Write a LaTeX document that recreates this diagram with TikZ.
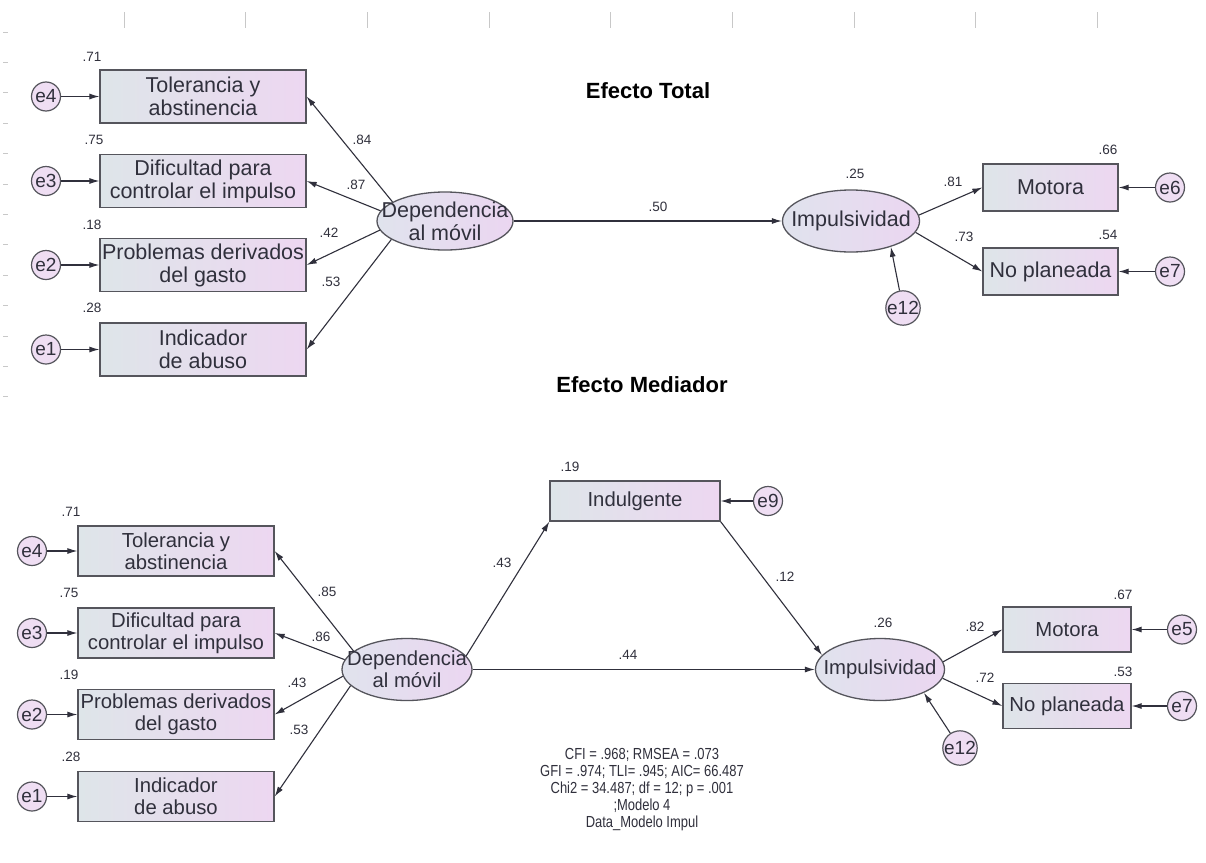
\documentclass[tikz,border=0pt]{standalone}
\usepackage{fontspec}
\setmainfont{Liberation Sans}
\usetikzlibrary{arrows.meta,shapes.geometric}
\definecolor{BoxLeft}{RGB}{222,229,233}
\definecolor{BoxRight}{RGB}{237,215,241}
\definecolor{LatLeft}{RGB}{224,227,237}
\definecolor{LatRight}{RGB}{235,214,241}
\definecolor{ErrFill}{RGB}{239,222,243}
\definecolor{Edge}{RGB}{85,85,92}
\definecolor{Ink}{RGB}{48,48,60}
\definecolor{Ruler}{RGB}{200,200,200}

\begin{document}
\begin{tikzpicture}[x=1pt, y=-1pt,
    obs/.style={draw=Edge, line width=1.3pt, left color=BoxLeft, right color=BoxRight,
        inner sep=0pt, align=center, text=Ink, font=\fontsize{21.5}{23}\selectfont},
    lat/.style={ellipse, draw=Edge, line width=1.3pt, left color=LatLeft, right color=LatRight,
        inner sep=0pt},
    lattext/.style={align=center, text=Ink, inner sep=0pt, font=\fontsize{21.5}{23}\selectfont},
    err/.style={circle, draw=Edge, line width=1.2pt, fill=ErrFill, inner sep=0pt,
        minimum size=29pt, text=Ink, font=\fontsize{19}{19}\selectfont},
    coef/.style={text=Ink, inner sep=0pt, font=\fontsize{13.5}{14}\selectfont},
    link/.style={draw=Ink, line width=1.1pt, -{Latex[length=10pt,width=6pt]}},
    small/.style={font=\fontsize{20.3}{22}\selectfont},
    ]
    %% Background
    \fill[white] (0,0) rectangle (1206,862);
    \useasboundingbox (0,0) rectangle (1206,862);

    %% Ruler marks
    \foreach \k in {0,...,8}
        \draw[Ruler, line width=1pt] ({124+121.7*\k},12) -- ({124+121.7*\k},28);
    \foreach \k in {0,...,12}
        \draw[Ruler, line width=1pt] (3,{32+30.4*\k}) -- (8,{32+30.4*\k});

    %% Titles
    \node[font=\bfseries\fontsize{22}{24}\selectfont] (titleT) at (648,91) {Efecto Total};
    \node[font=\bfseries\fontsize{22}{24}\selectfont] (titleM) at (642,385) {Efecto Mediador};

    %% Efecto Total: indicators
    \node[obs, minimum width=206pt, minimum height=53pt] (tolT) at (203,96.5) {Tolerancia y\\abstinencia};
    \node[obs, minimum width=206pt, minimum height=53pt] (difT) at (203,181) {Dificultad para\\controlar el impulso};
    \node[obs, minimum width=206pt, minimum height=53pt] (proT) at (203,265) {Problemas derivados\\del gasto};
    \node[obs, minimum width=206pt, minimum height=53pt] (abuT) at (203,349.5) {Indicador\\de abuso};
    \node[err] (eT4) at (46,96.5) {e4};
    \node[err] (eT3) at (46,181) {e3};
    \node[err] (eT2) at (46,265) {e2};
    \node[err] (eT1) at (46,349.5) {e1};
    \foreach \e/\b in {eT4/tolT, eT3/difT, eT2/proT, eT1/abuT}
        \draw[link] (\e) -- (\b.west);

    %% Efecto Total: latent variables
    \node[lat, minimum width=136pt, minimum height=58pt] (depT) at (445,221) {};
    \node[lattext] (depTtxt) at (depT) {Dependencia\\al móvil};
    \node[lat, minimum width=137pt, minimum height=62pt] (impT) at (851,221) {};
    \node[lattext] (impTtxt) at (impT) {Impulsividad};
    \node[err, minimum size=33pt] (eT12) at (903,308) {e12};

    \draw[link] (depT.160) -- (tolT.east);
    \draw[link] (depT.171) -- (difT.east);
    \draw[link] (depT.188) -- (proT.east);
    \draw[link] (depT.199) -- (abuT.east);
    \draw[link] (depT.east) -- (impT.west);
    \draw[link] (eT12) -- (impT.-33);

    %% Efecto Total: Impulsividad
    \node[obs, minimum width=135pt, minimum height=47pt] (motT) at (1050.5,187.5) {Motora};
    \node[obs, minimum width=135pt, minimum height=47pt] (nopT) at (1050.5,271.5) {No planeada};
    \node[err] (eT6) at (1170,187.5) {e6};
    \node[err] (eT7) at (1170,271.5) {e7};
    \draw[link] (impT.5) -- (motT.west);
    \draw[link] (impT.-10) -- (nopT.west);
    \draw[link] (eT6) -- (motT.east);
    \draw[link] (eT7) -- (nopT.east);

    \draw
    (92,57) node[coef]{.71}
    (94,140) node[coef]{.75}
    (92,225) node[coef]{.18}
    (92,308) node[coef]{.28}
    (362,140) node[coef]{.84}
    (356,185) node[coef]{.87}
    (329,233) node[coef]{.42}
    (331,282) node[coef]{.53}
    (658,207) node[coef]{.50}
    (855,174) node[coef]{.25}
    (953,182) node[coef]{.81}
    (964,237) node[coef]{.73}
    (1108,150) node[coef]{.66}
    (1108,235) node[coef]{.54}
    ;

    %% Efecto Mediador: indicators
    \node[obs, small, minimum width=196pt, minimum height=50pt] (tolM) at (176,551) {Tolerancia y\\abstinencia};
    \node[obs, small, minimum width=196pt, minimum height=50pt] (difM) at (176,633) {Dificultad para\\controlar el impulso};
    \node[obs, small, minimum width=196pt, minimum height=50pt] (proM) at (176,714.5) {Problemas derivados\\del gasto};
    \node[obs, small, minimum width=196pt, minimum height=50pt] (abuM) at (176,796.5) {Indicador\\de abuso};
    \node[err] (eM4) at (32,551) {e4};
    \node[err] (eM3) at (32,633) {e3};
    \node[err] (eM2) at (32,714.5) {e2};
    \node[err] (eM1) at (32,796.5) {e1};
    \foreach \e/\b in {eM4/tolM, eM3/difM, eM2/proM, eM1/abuM}
        \draw[link] (\e) -- (\b.west);

    %% Efecto Mediador: latent variables
    \node[lat, minimum width=130pt, minimum height=62pt] (depM) at (407,669.5) {};
    \node[lattext, small] (depMtxt) at (depM) {Dependencia\\al móvil};
    \node[lat, minimum width=129pt, minimum height=62pt] (impM) at (880,669.5) {};
    \node[lattext, small] (impMtxt) at (impM) {Impulsividad};
    \node[err, minimum size=33pt] (eM12) at (960,748) {e12};

    \draw[link] (depM.161) -- (tolM.east);
    \draw[link] (depM.171) -- (difM.east);
    \draw[link] (depM.186) -- (proM.east);
    \draw[link] (depM.196) -- (abuM.east);
    \draw[link] (depM.east) -- (impM.west);
    \draw[link] (eM12) -- (impM.-28);

    %% Efecto Mediador: Indulgente
    \node[obs, small, minimum width=170pt, minimum height=40pt] (indM) at (635,501) {Indulgente};
    \node[err] (eM9) at (768,501) {e9};
    \draw[link] (depM.13) -- (indM.south west);
    \draw[link] (indM.south east) -- (impM.166);
    \draw[link] (eM9) -- (indM.east);

    %% Efecto Mediador: Impulsividad
    \node[obs, small, minimum width=128pt, minimum height=45pt] (motM) at (1067,629.5) {Motora};
    \node[obs, small, minimum width=128pt, minimum height=45pt] (nopM) at (1067,706) {No planeada};
    \node[err] (eM5) at (1182,629.5) {e5};
    \node[err] (eM7) at (1182,706) {e7};
    \draw[link] (impM.7) -- (motM.west);
    \draw[link] (impM.-8) -- (nopM.west);
    \draw[link] (eM5) -- (motM.east);
    \draw[link] (eM7) -- (nopM.east);

    \draw
    (71,512) node[coef]{.71}
    (69,593) node[coef]{.75}
    (69,675) node[coef]{.19}
    (71,757) node[coef]{.28}
    (327,592) node[coef]{.85}
    (321,637) node[coef]{.86}
    (297,683) node[coef]{.43}
    (299,730) node[coef]{.53}
    (570,467) node[coef]{.19}
    (502,563) node[coef]{.43}
    (785,577) node[coef]{.12}
    (628,655) node[coef]{.44}
    (883,623) node[coef]{.26}
    (975,627) node[coef]{.82}
    (985,678) node[coef]{.72}
    (1123,595) node[coef]{.67}
    (1123,672) node[coef]{.53}
    ;

    %% Fit indices
    \node[text=Ink, font=\fontsize{16}{17}\selectfont] (gofM) at (642,790)
        {\scalebox{0.81}[1]{\begin{tabular}{@{}c@{}}
        CFI = .968; RMSEA = .073\\
        GFI = .974; TLI= .945; AIC= 66.487\\
        Chi2 = 34.487; df = 12; p = .001\\
        ;Modelo 4\\
        Data\_Modelo Impul
        \end{tabular}}};
\end{tikzpicture}
\end{document}
